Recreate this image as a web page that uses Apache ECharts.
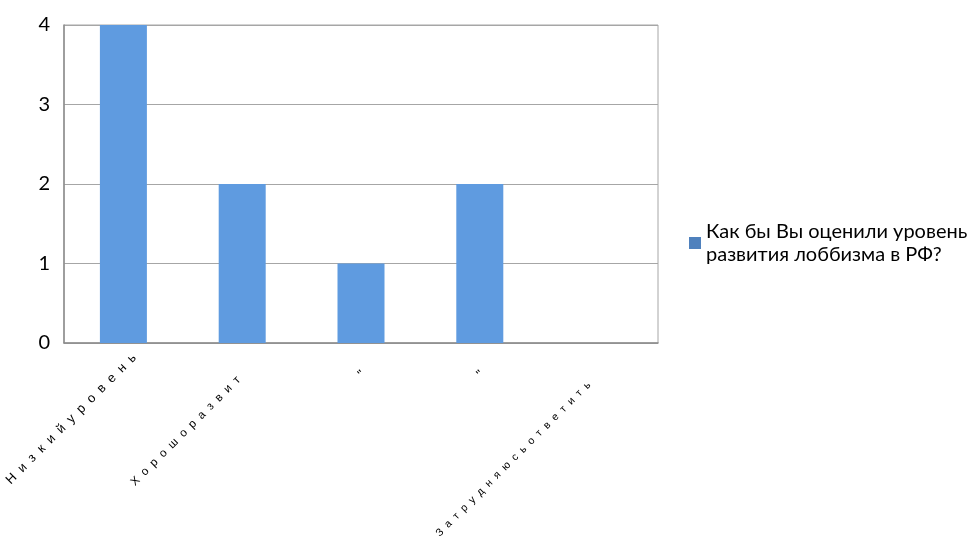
<!DOCTYPE html>
<html><head><meta charset="utf-8">
<script src="https://cdn.jsdelivr.net/npm/echarts@6/dist/echarts.min.js"></script>
<style>html,body{margin:0;padding:0;background:#fff}#c{width:974px;height:550px}</style>
</head><body><div id="c"></div>
<script>
var categories = ['Низкий уровень', 'Хорошо развит', '"', '"', 'Затрудняюсь ответить'];
var values = [4, 2, 1, 2, 0];
var seriesName = 'Как бы Вы оценили уровень\nразвития лоббизма в РФ?';
var yTicks = [0, 1, 2, 3, 4];
var labelShift = [7, 33, 25, 25, 41];
var labelDrop = [16, 22, 22, 22, 22];
var labelFont = [13, 11.6, 13, 13, 10.6];

var rich = {};
labelShift.forEach(function (s, i) {
  rich['p' + i] = {padding: [labelDrop[i], s, 0, 0], fontFamily: 'Liberation Sans Narrow, Liberation Sans', fontSize: labelFont[i], color: '#000'};
});

var chart = echarts.init(document.getElementById('c'));
chart.setOption({
  animation: false,
  grid: {left: 64, top: 25, width: 594, height: 318, show: true, borderColor: '#a6a6a6', borderWidth: 1, containLabel: false, outerBoundsMode: 'none'},
  legend: {
    data: [{name: seriesName, itemStyle: {color: '#4f81bd'}}], left: 684, top: 215, orient: 'vertical',
    itemWidth: 12, itemHeight: 12, itemGap: 4, icon: 'rect',
    textStyle: {fontFamily: 'Lato', fontSize: 20, color: '#000', lineHeight: 23}
  },
  xAxis: {
    type: 'category',
    data: categories,
    axisLine: {lineStyle: {color: '#8c8c8c', width: 1.5}},
    axisTick: {show: false},
    axisLabel: {
      rotate: 45, interval: 0, margin: -8, verticalAlign: 'top', align: 'right', hideOverlap: false,
      fontFamily: 'Liberation Sans Narrow, Liberation Sans', fontSize: 13, color: '#000',
      rich: rich,
      formatter: function (v, i) {
        var t = v.split('').filter(function(c){return c !== ' ';}).join('  ');
        return '{p' + i + '|' + t + '}';
      }
    }
  },
  yAxis: {
    type: 'value', min: yTicks[0], max: yTicks[yTicks.length - 1], interval: 1,
    axisLine: {show: true, lineStyle: {color: '#8c8c8c', width: 1.5}},
    axisTick: {show: false},
    splitLine: {lineStyle: {color: '#a6a6a6', width: 1}},
    axisLabel: {fontFamily: 'Lato', fontSize: 20, color: '#000', margin: 14}
  },
  series: [{
    name: seriesName, type: 'bar', data: values, barWidth: 47,
    itemStyle: {color: '#5f9be0'}
  }]
});
</script></body></html>
